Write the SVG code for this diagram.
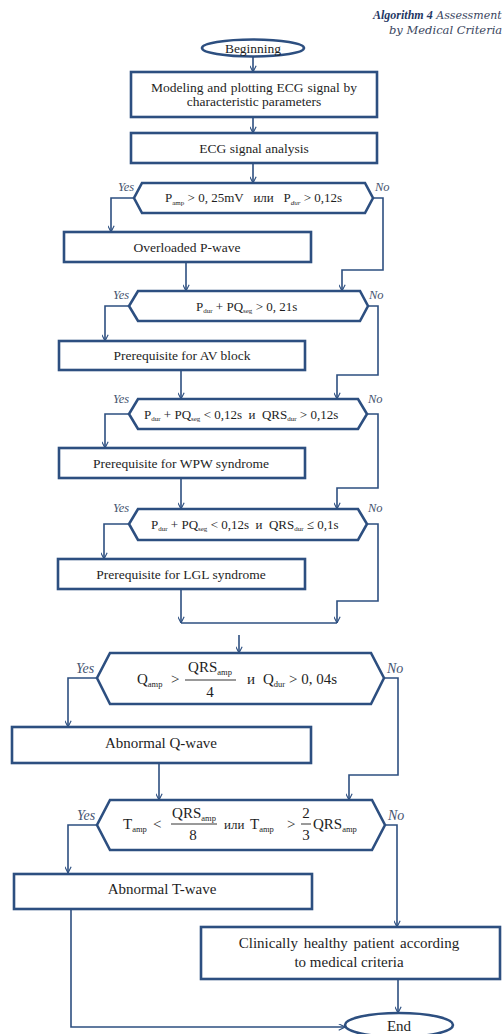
<svg xmlns="http://www.w3.org/2000/svg" width="502" height="1034" viewBox="0 0 502 1034">
<style>
.node{fill:#fff;stroke:#2D4F80;stroke-width:2.6}
.conn{fill:none;stroke:#2D4F80;stroke-width:1.6}
.t{font-family:"Liberation Serif","Times New Roman",serif;fill:#1e1e1e}
.b{font-size:13.5px}
.m{font-size:13px}
.L{font-size:15px}
.s{font-size:7px}
.sL{font-size:8.5px}
.yn{font-family:"Liberation Serif","Times New Roman",serif;font-style:italic;fill:#45546F;font-size:12.5px}
.ynL{font-size:14px}
.fl{stroke:#1e1e1e;stroke-width:0.9}
.ti{font-family:"DejaVu Serif",serif;font-style:italic;font-size:11.5px;fill:#3A4660}
</style>
<defs>
<marker id="arr" viewBox="0 0 10 10" refX="9.5" refY="5" markerWidth="7" markerHeight="7" markerUnits="userSpaceOnUse" orient="auto">
<path d="M0.5,0.5 L9.5,5 L0.5,9.5" fill="none" stroke="#2D4F80" stroke-width="1.6"/>
</marker>
</defs>
<g id="title">
<text class="ti" x="373" y="19"><tspan font-family="'Liberation Serif',serif" font-weight="bold" font-size="12" fill="#1F3864">Algorithm 4</tspan><tspan font-size="11"> Assessment</tspan></text>
<text class="ti" x="389" y="34">by Medical Criteria</text>
</g>
<g id="connectors">
<path class="conn" d="M253,57 V72" marker-end="url(#arr)"/>
<path class="conn" d="M253,117 V133" marker-end="url(#arr)"/>
<path class="conn" d="M253,163 V183" marker-end="url(#arr)"/>
<path class="conn" d="M134,198 H111 V232" marker-end="url(#arr)"/>
<path class="conn" d="M373,198 H383 V270 H342 V291" marker-end="url(#arr)"/>
<path class="conn" d="M186,262 V291" marker-end="url(#arr)"/>
<path class="conn" d="M129,306 H105 V341" marker-end="url(#arr)"/>
<path class="conn" d="M368,306 H378 V375 H337 V399" marker-end="url(#arr)"/>
<path class="conn" d="M181,370 V399" marker-end="url(#arr)"/>
<path class="conn" d="M129,414 H105 V448" marker-end="url(#arr)"/>
<path class="conn" d="M367,414 H378 V488 H337 V509" marker-end="url(#arr)"/>
<path class="conn" d="M181,478 V509" marker-end="url(#arr)"/>
<path class="conn" d="M129,524 H104 V559" marker-end="url(#arr)"/>
<path class="conn" d="M367,524 H378 V601 H337 V623" marker-end="url(#arr)"/>
<path class="conn" d="M181,589 V623" marker-end="url(#arr)"/>
<path class="conn" d="M181,623 H337"/>
<path class="conn" d="M239,635 V653" marker-end="url(#arr)"/>
<path class="conn" d="M97,678 H68 V727" marker-end="url(#arr)"/>
<path class="conn" d="M384,678 H398 V775 H349 V800" marker-end="url(#arr)"/>
<path class="conn" d="M159,763 V800" marker-end="url(#arr)"/>
<path class="conn" d="M97,825 H68 V873" marker-end="url(#arr)"/>
<path class="conn" d="M385,825 H397 V927" marker-end="url(#arr)"/>
<path class="conn" d="M398,979 V1013" marker-end="url(#arr)"/>
<path class="conn" d="M71,909 V1027 H345" marker-end="url(#arr)"/>
</g>
<g id="labels">
<text class="yn" x="118" y="191">Yes</text>
<text class="yn" x="375" y="191">No</text>
<text class="yn" x="113" y="299">Yes</text>
<text class="yn" x="369" y="299">No</text>
<text class="yn" x="113" y="403">Yes</text>
<text class="yn" x="368" y="403">No</text>
<text class="yn" x="113" y="512">Yes</text>
<text class="yn" x="368" y="512">No</text>
<text class="yn ynL" x="76" y="673">Yes</text>
<text class="yn ynL" x="387" y="673">No</text>
<text class="yn ynL" x="77" y="820">Yes</text>
<text class="yn ynL" x="388" y="820">No</text>
</g>
<g id="start">
<ellipse class="node" cx="253" cy="48" rx="51" ry="8.5"/>
<text class="t b" x="253" y="52.5" text-anchor="middle">Beginning</text>
</g>
<g id="modeling">
<rect class="node" x="131" y="72" width="246" height="45"/>
<text class="t b" x="254" y="91.5" text-anchor="middle" word-spacing="0.5">Modeling and plotting ECG signal by</text>
<text class="t b" x="254" y="106" text-anchor="middle">characteristic parameters</text>
</g>
<g id="analysis">
<rect class="node" x="131" y="133" width="246" height="30"/>
<text class="t b" x="254" y="152.5" text-anchor="middle">ECG signal analysis</text>
</g>
<g id="dec1">
<polygon class="node" points="142,183 365,183 373,198 365,213 142,213 134,198"/>
<text class="t m" x="165" y="202">P<tspan class="s" dy="2.5">amp</tspan><tspan dy="-2.5"> &gt; 0, 25mV&#160;&#160;&#160;или&#160;&#160;&#160;P</tspan><tspan class="s" dy="2.5" font-style="italic">dur</tspan><tspan dy="-2.5"> &gt; 0,12s</tspan></text>
</g>
<g id="overloaded">
<rect class="node" x="64" y="232" width="247" height="30"/>
<text class="t b" x="187" y="251.5" text-anchor="middle">Overloaded P-wave</text>
</g>
<g id="dec2">
<polygon class="node" points="138,291 360,291 368,306 360,321 138,321 129,306"/>
<text class="t m" x="196" y="310.5">P<tspan class="s" dy="2.5">dur</tspan><tspan dy="-2.5"> + PQ</tspan><tspan class="s" dy="2.5">seg</tspan><tspan dy="-2.5"> &gt; 0, 21s</tspan></text>
</g>
<g id="av">
<rect class="node" x="59" y="341" width="246" height="29"/>
<text class="t b" x="182" y="360" text-anchor="middle">Prerequisite for AV block</text>
</g>
<g id="dec3">
<polygon class="node" points="138,399 358,399 367,414 358,429 138,429 129,414"/>
<text class="t m" x="144" y="418.5">P<tspan class="s" dy="2.5">dur</tspan><tspan dy="-2.5"> + PQ</tspan><tspan class="s" dy="2.5">seg</tspan><tspan dy="-2.5"> &lt; 0,12s&#160;&#160;и&#160;&#160;QRS</tspan><tspan class="s" dy="2.5">dur</tspan><tspan dy="-2.5"> &gt; 0,12s</tspan></text>
</g>
<g id="wpw">
<rect class="node" x="59" y="448" width="246" height="30"/>
<text class="t b" x="181" y="467.5" text-anchor="middle">Prerequisite for WPW syndrome</text>
</g>
<g id="dec4">
<polygon class="node" points="138,509 358,509 367,524 358,540 138,540 129,524"/>
<text class="t m" x="151" y="528.5">P<tspan class="s" dy="2.5">dur</tspan><tspan dy="-2.5"> + PQ</tspan><tspan class="s" dy="2.5">seg</tspan><tspan dy="-2.5"> &lt; 0,12s&#160;&#160;и&#160;&#160;QRS</tspan><tspan class="s" dy="2.5">dur</tspan><tspan dy="-2.5"> ≤ 0,1s</tspan></text>
</g>
<g id="lgl">
<rect class="node" x="58" y="559" width="247" height="30"/>
<text class="t b" x="181" y="578.5" text-anchor="middle">Prerequisite for LGL syndrome</text>
</g>
<g id="dec5">
<polygon class="node" points="110,653 371,653 384,678 371,704 110,704 97,678"/>
<text class="t L" x="137" y="684">Q<tspan class="sL" dy="2.5">amp</tspan></text>
<text class="t L" x="171" y="684">&gt;</text>
<text class="t L" x="210" y="672" text-anchor="middle">QRS<tspan class="sL" dy="2.5">amp</tspan></text>
<line class="fl" x1="185" y1="680" x2="236" y2="680"/>
<text class="t L" x="210" y="697" text-anchor="middle">4</text>
<text class="t L" x="247" y="684">и</text>
<text class="t L" x="263" y="684">Q<tspan class="sL" dy="2.5">dur</tspan><tspan dy="-2.5"> &gt; 0, 04s</tspan></text>
</g>
<g id="qwave">
<rect class="node" x="12" y="727" width="299" height="36"/>
<text class="t L" x="161" y="747.5" text-anchor="middle">Abnormal Q-wave</text>
</g>
<g id="dec6">
<polygon class="node" points="110,800 372,800 385,825 372,850 110,850 97,825"/>
<text class="t L" x="123" y="829">T<tspan class="sL" dy="2.5">amp</tspan></text>
<text class="t L" x="153" y="829">&lt;</text>
<text class="t L" x="194" y="818" text-anchor="middle">QRS<tspan class="sL" dy="2.5">amp</tspan></text>
<line class="fl" x1="171" y1="824" x2="217" y2="824"/>
<text class="t L" x="193" y="840" text-anchor="middle">8</text>
<text class="t m" x="224" y="829">или</text>
<text class="t L" x="250" y="829">T<tspan class="sL" dy="2.5">amp</tspan></text>
<text class="t L" x="287" y="829">&gt;</text>
<text class="t L" x="306" y="818" text-anchor="middle">2</text>
<line class="fl" x1="301" y1="824" x2="311" y2="824"/>
<text class="t L" x="306" y="840" text-anchor="middle">3</text>
<text class="t L" x="313" y="829">QRS<tspan class="sL" dy="2.5">amp</tspan></text>
</g>
<g id="twave">
<rect class="node" x="14" y="874" width="298" height="35"/>
<text class="t L" x="162" y="894" text-anchor="middle">Abnormal T-wave</text>
</g>
<g id="healthy">
<rect class="node" x="201" y="927" width="299" height="52"/>
<text class="t L" x="349" y="948" text-anchor="middle" word-spacing="2">Clinically healthy patient according</text>
<text class="t L" x="349" y="967" text-anchor="middle">to medical criteria</text>
</g>
<g id="end">
<ellipse class="node" cx="399" cy="1025" rx="54" ry="12"/>
<text class="t L" x="399" y="1031" text-anchor="middle">End</text>
</g>
</svg>
